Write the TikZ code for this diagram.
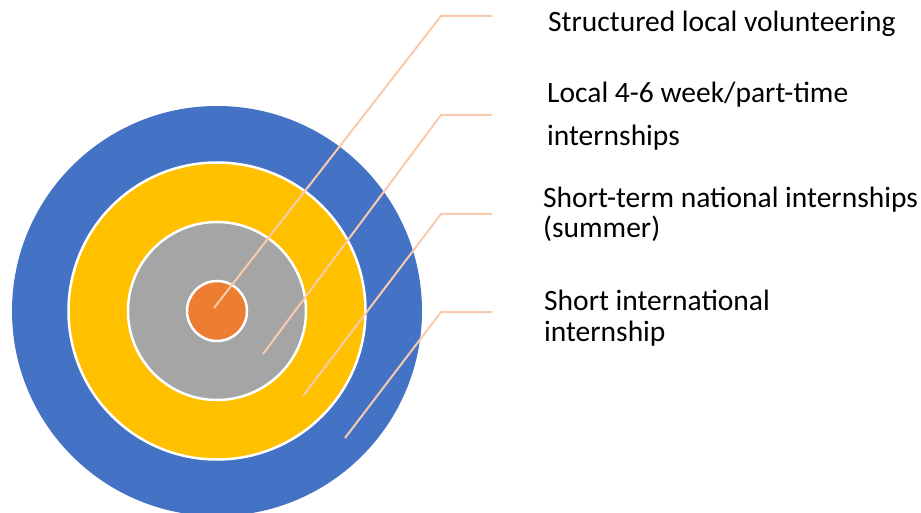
\documentclass[tikz,border=0pt]{standalone}
\usepackage{fontspec}
\setmainfont{Carlito}
\definecolor{ringblue}{HTML}{4472C4}
\definecolor{ringgold}{HTML}{FFC000}
\definecolor{ringgrey}{HTML}{A5A5A5}
\definecolor{ringorange}{HTML}{ED7D31}
\definecolor{leader}{HTML}{F8CBAD}
\tikzset{
  ring/.style={draw=white, line width=2.5pt},
  pointer/.style={draw=leader, line width=2pt},
  caption/.style={anchor=base west, inner sep=0pt, align=left, font=\fontsize{29.5}{30}\selectfont}
}
\begin{document}
\begin{tikzpicture}[x=1pt, y=-1pt]
  \useasboundingbox (0,0) rectangle (921,513);
  \begin{scope}
    \clip (0,0) rectangle (921,513);
    \fill[ringblue] (217,311) circle (205);
    \filldraw[ring, fill=ringgold] (217,311) circle (148.5);
    \filldraw[ring, fill=ringgrey] (217,311) circle (89);
    \filldraw[ring, fill=ringorange] (217,311) circle (30);
  \end{scope}
  % base anchor sits on the last line
  \draw
    (548,32) node[caption] (1){Structured local volunteering}
    (547,146) node[caption] (2){Local 4-6 week/part-time\\[13pt]internships}
    (543,237) node[caption] (3){Short-term national internships\\(summer)}
    (544,341) node[caption] (4){Short international\\[1pt]internship};
  \coordinate (p1) at (214,308);
  \coordinate (p2) at (263,354);
  \coordinate (p3) at (303,396);
  \coordinate (p4) at (345,438);
  \coordinate (k1) at (441,16);
  \coordinate (k2) at (441,115);
  \coordinate (k3) at (441,214);
  \coordinate (k4) at (441,312);
  \coordinate (e1) at (492,16);
  \coordinate (e2) at (492,115);
  \coordinate (e3) at (492,214);
  \coordinate (e4) at (492,312);
  \begin{scope}[pointer]
    \draw (p1) -- (k1) -- (e1);
    \draw (p2) -- (k2) -- (e2);
    \draw (p3) -- (k3) -- (e3);
    \draw (p4) -- (k4) -- (e4);
  \end{scope}
\end{tikzpicture}
\end{document}
